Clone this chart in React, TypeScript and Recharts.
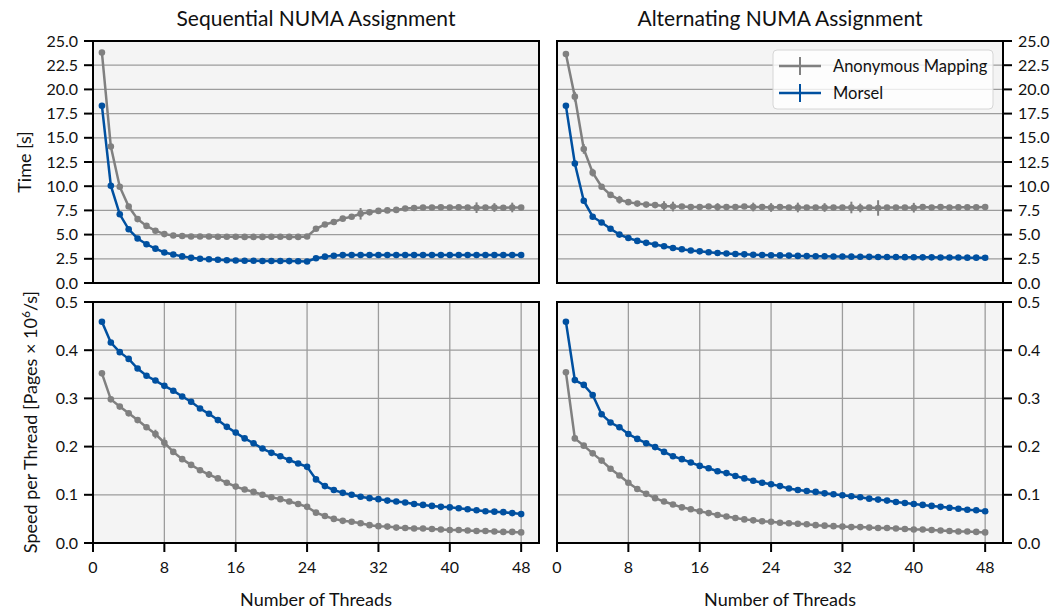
import React from 'react';
import { LineChart, Line, XAxis, YAxis, CartesianGrid, ReferenceArea, ErrorBar } from 'recharts';

const threads = [1, 2, 3, 4, 5, 6, 7, 8, 9, 10, 11, 12, 13, 14, 15, 16, 17, 18, 19, 20, 21, 22, 23, 24, 25, 26, 27, 28, 29, 30, 31, 32, 33, 34, 35, 36, 37, 38, 39, 40, 41, 42, 43, 44, 45, 46, 47, 48];

const xTicks = [0, 8, 16, 24, 32, 40, 48];
const timeTicks = [0, 2.5, 5, 7.5, 10, 12.5, 15, 17.5, 20, 22.5, 25];
const speedTicks = [0, 0.1, 0.2, 0.3, 0.4, 0.5];

const seqTimeAnon = [23.8, 14.1, 9.95, 7.9, 6.6, 5.9, 5.4, 5.05, 4.9, 4.85, 4.8, 4.8, 4.8, 4.78, 4.78, 4.78, 4.76, 4.76, 4.76, 4.78, 4.78, 4.76, 4.76, 4.8, 5.6, 6.05, 6.3, 6.65, 6.85, 7.15, 7.3, 7.45, 7.5, 7.55, 7.7, 7.75, 7.8, 7.8, 7.82, 7.8, 7.82, 7.8, 7.78, 7.8, 7.8, 7.78, 7.8, 7.8];
const seqTimeAnonErr = [0, 0, 0, 0, 0, 0, 0, 0, 0, 0, 0, 0, 0, 0, 0, 0, 0, 0, 0, 0, 0, 0, 0, 0, 0, 0, 0, 0, 0, 0.6, 0, 0, 0, 0, 0, 0, 0, 0, 0, 0, 0, 0, 0.55, 0, 0.45, 0, 0.5, 0];
const seqTimeMorsel = [18.3, 10.05, 7.1, 5.55, 4.6, 4.0, 3.55, 3.15, 2.95, 2.75, 2.6, 2.5, 2.45, 2.4, 2.35, 2.32, 2.3, 2.3, 2.28, 2.28, 2.27, 2.26, 2.25, 2.22, 2.55, 2.72, 2.82, 2.88, 2.9, 2.9, 2.9, 2.9, 2.9, 2.9, 2.9, 2.9, 2.9, 2.9, 2.9, 2.9, 2.9, 2.9, 2.9, 2.9, 2.9, 2.9, 2.9, 2.9];

const altTimeAnon = [23.65, 19.25, 13.85, 11.4, 9.95, 9.1, 8.6, 8.35, 8.2, 8.1, 8.05, 7.95, 7.9, 7.9, 7.85, 7.85, 7.9, 7.85, 7.85, 7.85, 7.9, 7.85, 7.85, 7.8, 7.85, 7.8, 7.8, 7.8, 7.8, 7.8, 7.8, 7.8, 7.8, 7.75, 7.8, 7.75, 7.8, 7.8, 7.8, 7.78, 7.85, 7.8, 7.85, 7.8, 7.82, 7.82, 7.82, 7.85];
const altTimeAnonErr = [0, 0.5, 0.5, 0.4, 0, 0, 0.4, 0, 0, 0, 0, 0.5, 0.5, 0, 0, 0, 0, 0.4, 0, 0, 0, 0.45, 0, 0.45, 0, 0, 0.5, 0, 0, 0.45, 0, 0, 0.6, 0.45, 0, 0.8, 0, 0, 0, 0.5, 0, 0, 0, 0, 0, 0, 0, 0];
const altTimeMorsel = [18.3, 12.35, 8.5, 6.85, 6.25, 5.6, 5.0, 4.65, 4.35, 4.15, 3.98, 3.8, 3.62, 3.48, 3.36, 3.27, 3.18, 3.1, 3.05, 3.0, 2.96, 2.92, 2.9, 2.87, 2.85, 2.83, 2.8, 2.78, 2.77, 2.76, 2.74, 2.73, 2.72, 2.71, 2.7, 2.69, 2.68, 2.68, 2.67, 2.66, 2.65, 2.65, 2.64, 2.63, 2.63, 2.62, 2.62, 2.61];

const seqSpeedAnon = [0.352, 0.298, 0.283, 0.269, 0.255, 0.240, 0.226, 0.208, 0.189, 0.174, 0.162, 0.151, 0.142, 0.134, 0.125, 0.117, 0.111, 0.106, 0.100, 0.095, 0.091, 0.086, 0.081, 0.075, 0.063, 0.056, 0.050, 0.046, 0.044, 0.041, 0.037, 0.035, 0.034, 0.032, 0.031, 0.030, 0.030, 0.029, 0.028, 0.027, 0.027, 0.026, 0.025, 0.025, 0.024, 0.023, 0.023, 0.022];
const seqSpeedAnonErr = [0, 0, 0, 0, 0, 0, 0.009, 0.011, 0, 0, 0, 0, 0.007, 0, 0, 0, 0, 0, 0, 0, 0, 0, 0, 0, 0, 0, 0, 0, 0, 0, 0, 0, 0, 0, 0, 0, 0, 0, 0, 0, 0, 0, 0, 0, 0, 0, 0, 0];
const seqSpeedMorsel = [0.459, 0.416, 0.396, 0.382, 0.362, 0.347, 0.337, 0.326, 0.316, 0.304, 0.293, 0.279, 0.268, 0.255, 0.241, 0.229, 0.217, 0.207, 0.196, 0.187, 0.180, 0.172, 0.165, 0.158, 0.132, 0.118, 0.110, 0.104, 0.100, 0.096, 0.093, 0.091, 0.088, 0.086, 0.084, 0.081, 0.079, 0.077, 0.075, 0.074, 0.072, 0.070, 0.068, 0.066, 0.065, 0.064, 0.062, 0.060];

const altSpeedAnon = [0.354, 0.217, 0.202, 0.186, 0.171, 0.154, 0.140, 0.125, 0.112, 0.102, 0.093, 0.086, 0.080, 0.074, 0.070, 0.066, 0.062, 0.058, 0.055, 0.052, 0.049, 0.047, 0.045, 0.044, 0.042, 0.041, 0.040, 0.039, 0.037, 0.036, 0.035, 0.034, 0.033, 0.033, 0.032, 0.031, 0.031, 0.030, 0.029, 0.028, 0.028, 0.027, 0.026, 0.025, 0.024, 0.024, 0.023, 0.022];
const altSpeedAnonErr = [0, 0, 0, 0, 0, 0, 0, 0, 0, 0, 0, 0, 0, 0, 0, 0, 0, 0, 0, 0, 0, 0, 0, 0, 0, 0, 0, 0, 0, 0, 0, 0, 0, 0, 0, 0, 0, 0, 0, 0, 0, 0, 0, 0, 0, 0, 0, 0];
const altSpeedMorsel = [0.459, 0.338, 0.328, 0.307, 0.267, 0.250, 0.240, 0.226, 0.216, 0.207, 0.199, 0.189, 0.180, 0.174, 0.167, 0.160, 0.155, 0.149, 0.145, 0.139, 0.134, 0.129, 0.125, 0.122, 0.118, 0.113, 0.110, 0.108, 0.106, 0.103, 0.101, 0.099, 0.097, 0.095, 0.092, 0.090, 0.088, 0.085, 0.083, 0.081, 0.079, 0.077, 0.075, 0.073, 0.071, 0.069, 0.068, 0.066];

const seriesNames = ['Anonymous Mapping', 'Morsel'];
const titles = ['Sequential NUMA Assignment', 'Alternating NUMA Assignment'];

const GRAY = '#808080';
const BLUE = '#0050a0';
const FONT = 'Lato, "Open Sans", sans-serif';

function buildRows(anon: number[], morsel: number[], anonErr: number[]) {
  return threads.map((t, i) => ({ t, anon: anon[i], morsel: morsel[i], anonErr: anonErr[i] }));
}

type PanelProps = {
  rows: any[];
  right: boolean;
  bottom: boolean;
  yDomain: [number, number];
  yTicks: number[];
};

const W = 1056;
const H = 612;

function Panel({ rows, right, bottom, yDomain, yTicks }: PanelProps) {
  const margin = {
    top: bottom ? 302 : 41,
    bottom: bottom ? 0 : 329,
    left: right ? 557 : 0,
    right: right ? 0 : 517,
  };
  return (
    <div style={{ position: 'absolute', left: 0, top: 0 }}>
      <LineChart width={W} height={H} data={rows} margin={margin}>
        <CartesianGrid stroke="#9c9c9c" strokeWidth={1.3} fill="#f4f4f4" fillOpacity={1} />
        {bottom ? (
          <XAxis
            type="number"
            dataKey="t"
            domain={[0, 50]}
            ticks={xTicks}
            interval={0}
            height={69}
            tickSize={9}
            tickMargin={10}
            axisLine={false}
            tickLine={{ stroke: '#000', strokeWidth: 2 }}
            tick={{ fontSize: 16, fill: '#111' }}
            allowDataOverflow
          />
        ) : (
          <XAxis
            type="number"
            dataKey="t"
            domain={[0, 50]}
            ticks={xTicks}
            interval={0}
            height={0}
            tick={false}
            tickLine={false}
            axisLine={false}
            allowDataOverflow
          />
        )}
        <YAxis
          type="number"
          domain={yDomain}
          ticks={yTicks}
          interval={0}
          orientation={right ? 'right' : 'left'}
          width={right ? 53 : 93}
          tickSize={9}
          tickMargin={6}
          axisLine={false}
          tickLine={{ stroke: '#000', strokeWidth: 2 }}
          tick={{ fontSize: 16, fill: '#111' }}
          tickFormatter={(v: number) => v.toFixed(1)}
          allowDataOverflow
        />
        <Line
          dataKey="anon"
          name={seriesNames[0]}
          stroke={GRAY}
          strokeWidth={2.5}
          dot={{ r: 3.3, fill: GRAY, stroke: GRAY, strokeWidth: 0 }}
          isAnimationActive={false}
        >
          <ErrorBar dataKey="anonErr" width={0} strokeWidth={2} stroke={GRAY} direction="y" />
        </Line>
        <Line
          dataKey="morsel"
          name={seriesNames[1]}
          stroke={BLUE}
          strokeWidth={2.5}
          dot={{ r: 3.3, fill: BLUE, stroke: BLUE, strokeWidth: 0 }}
          isAnimationActive={false}
        />
        <ReferenceArea
          x1={0}
          x2={50}
          y1={yDomain[0]}
          y2={yDomain[1]}
          fill="none"
          fillOpacity={0}
          stroke="#000"
          strokeWidth={2}
          ifOverflow="visible"
        />
      </LineChart>
    </div>
  );
}

export default function App() {
  const tl = buildRows(seqTimeAnon, seqTimeMorsel, seqTimeAnonErr);
  const tr = buildRows(altTimeAnon, altTimeMorsel, altTimeAnonErr);
  const bl = buildRows(seqSpeedAnon, seqSpeedMorsel, seqSpeedAnonErr);
  const br = buildRows(altSpeedAnon, altSpeedMorsel, altSpeedAnonErr);
  return (
    <div
      style={{
        position: 'absolute',
        left: 0,
        top: 0,
        width: W,
        height: H,
        background: '#fff',
        fontFamily: FONT,
        overflow: 'hidden',
      }}
    >
      <Panel rows={tl} right={false} bottom={false} yDomain={[0, 25]} yTicks={timeTicks} />
      <Panel rows={tr} right={true} bottom={false} yDomain={[0, 25]} yTicks={timeTicks} />
      <Panel rows={bl} right={false} bottom={true} yDomain={[0, 0.5]} yTicks={speedTicks} />
      <Panel rows={br} right={true} bottom={true} yDomain={[0, 0.5]} yTicks={speedTicks} />
      <svg
        width={W}
        height={H}
        style={{ position: 'absolute', left: 0, top: 0, pointerEvents: 'none', fontFamily: FONT }}
      >
        <text x={316} y={26} textAnchor="middle" fontSize={21} fill="#111">{titles[0]}</text>
        <text x={780} y={26} textAnchor="middle" fontSize={21} fill="#111">{titles[1]}</text>
        <text x={316} y={606} textAnchor="middle" fontSize={18} fill="#111">Number of Threads</text>
        <text x={780} y={606} textAnchor="middle" fontSize={18} fill="#111">Number of Threads</text>
        <text transform="translate(31,162) rotate(-90)" textAnchor="middle" fontSize={18} fill="#111">Time [s]</text>
        <text transform="translate(37,422) rotate(-90)" textAnchor="middle" fontSize={18} fill="#111">
          Speed per Thread [Pages × 10<tspan dy={-7} fontSize={12}>6</tspan><tspan dy={7}>/s]</tspan>
        </text>
        <g>
          <rect x={773} y={50} width={220} height={59} rx={4} fill="#fff" fillOpacity={0.8} stroke="#d6d6d6" strokeWidth={1} />
          <line x1={779} y1={66} x2={821} y2={66} stroke={GRAY} strokeWidth={2.5} />
          <line x1={800} y1={57} x2={800} y2={75} stroke={GRAY} strokeWidth={2} />
          <text x={833} y={72} fontSize={16.5} fill="#111">{seriesNames[0]}</text>
          <line x1={779} y1={93} x2={821} y2={93} stroke={BLUE} strokeWidth={2.5} />
          <line x1={800} y1={84} x2={800} y2={102} stroke={BLUE} strokeWidth={2} />
          <text x={833} y={99} fontSize={16.5} fill="#111">{seriesNames[1]}</text>
        </g>
      </svg>
    </div>
  );
}
